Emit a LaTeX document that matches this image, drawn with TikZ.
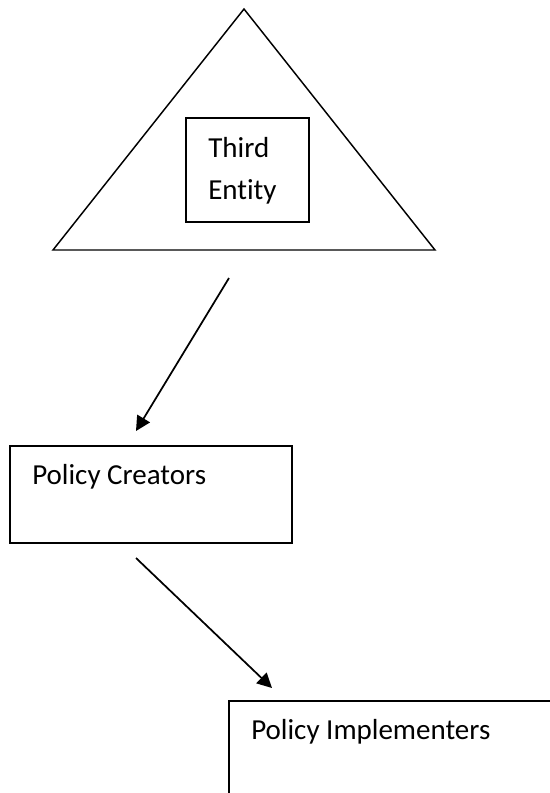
\documentclass[tikz,border=0pt]{standalone}
\usepackage{fontspec}
\setmainfont[Ligatures=NoCommon]{Carlito}
\usetikzlibrary{arrows.meta, positioning, calc, fit}

\begin{document}
\begin{tikzpicture}[x=0.75pt, y=-0.75pt, >={Triangle[length=11pt,width=11pt]},
    box/.style={draw, line width=1.1pt, inner sep=0pt},
    txt/.style={inner sep=0pt, anchor=base west, font=\fontsize{21.75pt}{26pt}\selectfont},
    link/.style={->, line width=1.3pt}]

  \clip (0,0) rectangle (550,793);

  \coordinate (apex) at (244,9);
  \coordinate (bl) at (53,250);
  \coordinate (br) at (435,250);
  \draw[line width=1.1pt] (apex) -- (bl) -- (br) -- cycle;

  \node[box, fit={(186,118) (309,222)}] (third) {};
  \node[txt] (thirda) at (208,157) {Third};
  \node[txt] (thirdb) at (208,199) {Entity};

  \node[box, fit={(10,446) (292,543)}] (creators) {};
  \node[txt] (creatorst) at (32,484) {Policy Creators};

  \node[box, fit={(229,701) (580,830)}] (impl) {};
  \node[txt] (implt) at (251,739) {Policy Implementers};

  \coordinate (a1s) at (229,278);
  \coordinate (a1e) at (136,431);
  \coordinate (a2s) at (136,558);
  \coordinate (a2e) at (272,688);
  \draw[link] (a1s) -- (a1e);
  \draw[link] (a2s) -- (a2e);
\end{tikzpicture}
\end{document}
